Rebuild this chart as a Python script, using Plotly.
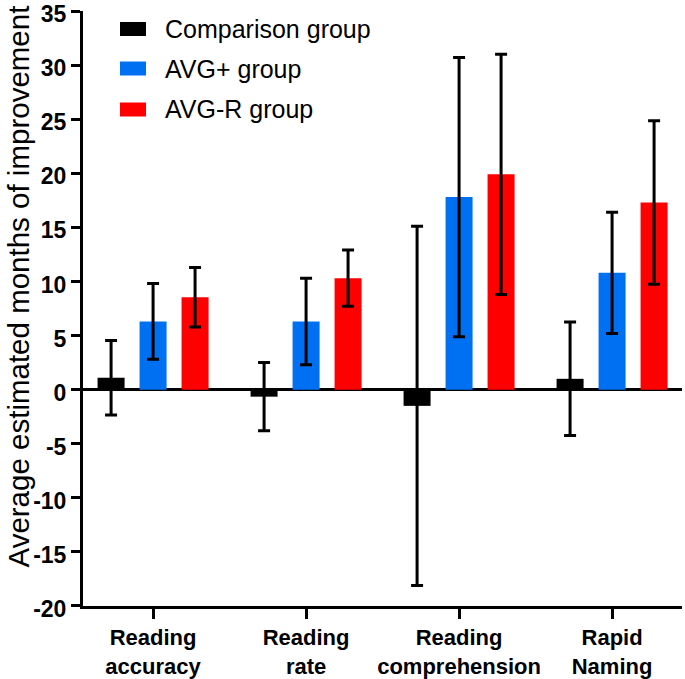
import plotly.graph_objects as go

categories = ["Reading<br>accuracy", "Reading<br>rate", "Reading<br>comprehension", "Rapid<br>Naming"]
series_names = ["Comparison group", "AVG+ group", "AVG-R group"]
series_colors = ["#000000", "#0070F2", "#FF0000"]
comparison = [1.1, -0.65, -1.5, 1.0]
avg_plus = [6.3, 6.3, 17.8, 10.8]
avg_r = [8.55, 10.3, 19.9, 17.3]
comparison_err = [3.45, 3.15, 16.6, 5.25]
avg_plus_err = [3.5, 4.0, 12.9, 5.6]
avg_r_err = [2.75, 2.6, 11.1, 7.55]
y_tickvals = [-20, -15, -10, -5, 0, 5, 10, 15, 20, 25, 30, 35]
y_ticktext = ["-20", "-15", "-10", "-5", "0", "5", "10", "15", "20", "25", "30", "35"]
y_title = "Average estimated months of improvement"

values = [comparison, avg_plus, avg_r]
errors = [comparison_err, avg_plus_err, avg_r_err]

FONT = "Liberation Sans, Arial, sans-serif"

fig = go.Figure()
xs = list(range(len(categories)))
for name, color, vals, errs in zip(series_names, series_colors, values, errors):
    fig.add_trace(go.Bar(
        x=xs, y=vals, name=name,
        marker=dict(color=color, line=dict(width=0)),
        error_y=dict(type="data", array=errs, visible=True,
                     color="#000000", thickness=3, width=6),
        showlegend=False,
    ))

# custom legend (swatches + labels)
W, H = 599, 595
def px(x):
    return (x - 83) / W
def py(y):
    return (606 - y) / H
row_centers = [29, 68.5, 109.5]
for name, color, yc in zip(series_names, series_colors, row_centers):
    fig.add_shape(type="rect", xref="paper", yref="paper",
                  x0=px(120), x1=px(146), y0=py(yc - 7), y1=py(yc + 7),
                  fillcolor=color, line=dict(width=0))
    fig.add_annotation(xref="paper", yref="paper", x=px(163), y=py(yc),
                       text=name, showarrow=False, xanchor="left", yanchor="middle",
                       font=dict(family=FONT, size=25, color="#000000"))

# y-axis title
fig.add_annotation(xref="paper", yref="paper", x=px(-1), y=py(287),
                   text=y_title, showarrow=False, textangle=-90,
                   xanchor="left", yanchor="middle",
                   font=dict(family=FONT, size=29.5, color="#000000"))

fig.update_layout(
    width=685, height=679,
    margin=dict(l=83, r=3, t=11, b=73),
    paper_bgcolor="white", plot_bgcolor="white",
    barmode="group", bargap=0.1765, bargroupgap=0.357,
    font=dict(family=FONT, color="#000000"),
)
fig.update_xaxes(
    range=[-0.458, 3.457],
    tickvals=xs, ticktext=["<b>" + c.replace("<br>", "</b><br><b>") + "</b>" for c in categories],
    tickfont=dict(family=FONT, size=22, color="#000000"),
    showline=True, linewidth=3, linecolor="#000000",
    ticks="outside", ticklen=10, tickwidth=3, tickcolor="#000000",
    showgrid=False, zeroline=False, automargin=False,
)
fig.update_yaxes(
    range=[-20.001, 35.001],
    tickvals=y_tickvals, ticktext=["<b>" + t + "</b>" for t in y_ticktext],
    tickfont=dict(family=FONT, size=23, color="#000000"),
    ticklabeloverflow="allow", ticklabelshift=3,
    showline=True, linewidth=3, linecolor="#000000",
    ticks="outside", ticklen=9, tickwidth=3, tickcolor="#000000",
    showgrid=False, zeroline=True, zerolinewidth=3, zerolinecolor="#000000",
    automargin=False,
)

fig.write_html("out.html", config={"displayModeBar": False},
               post_script="document.body.style.margin='0';")
